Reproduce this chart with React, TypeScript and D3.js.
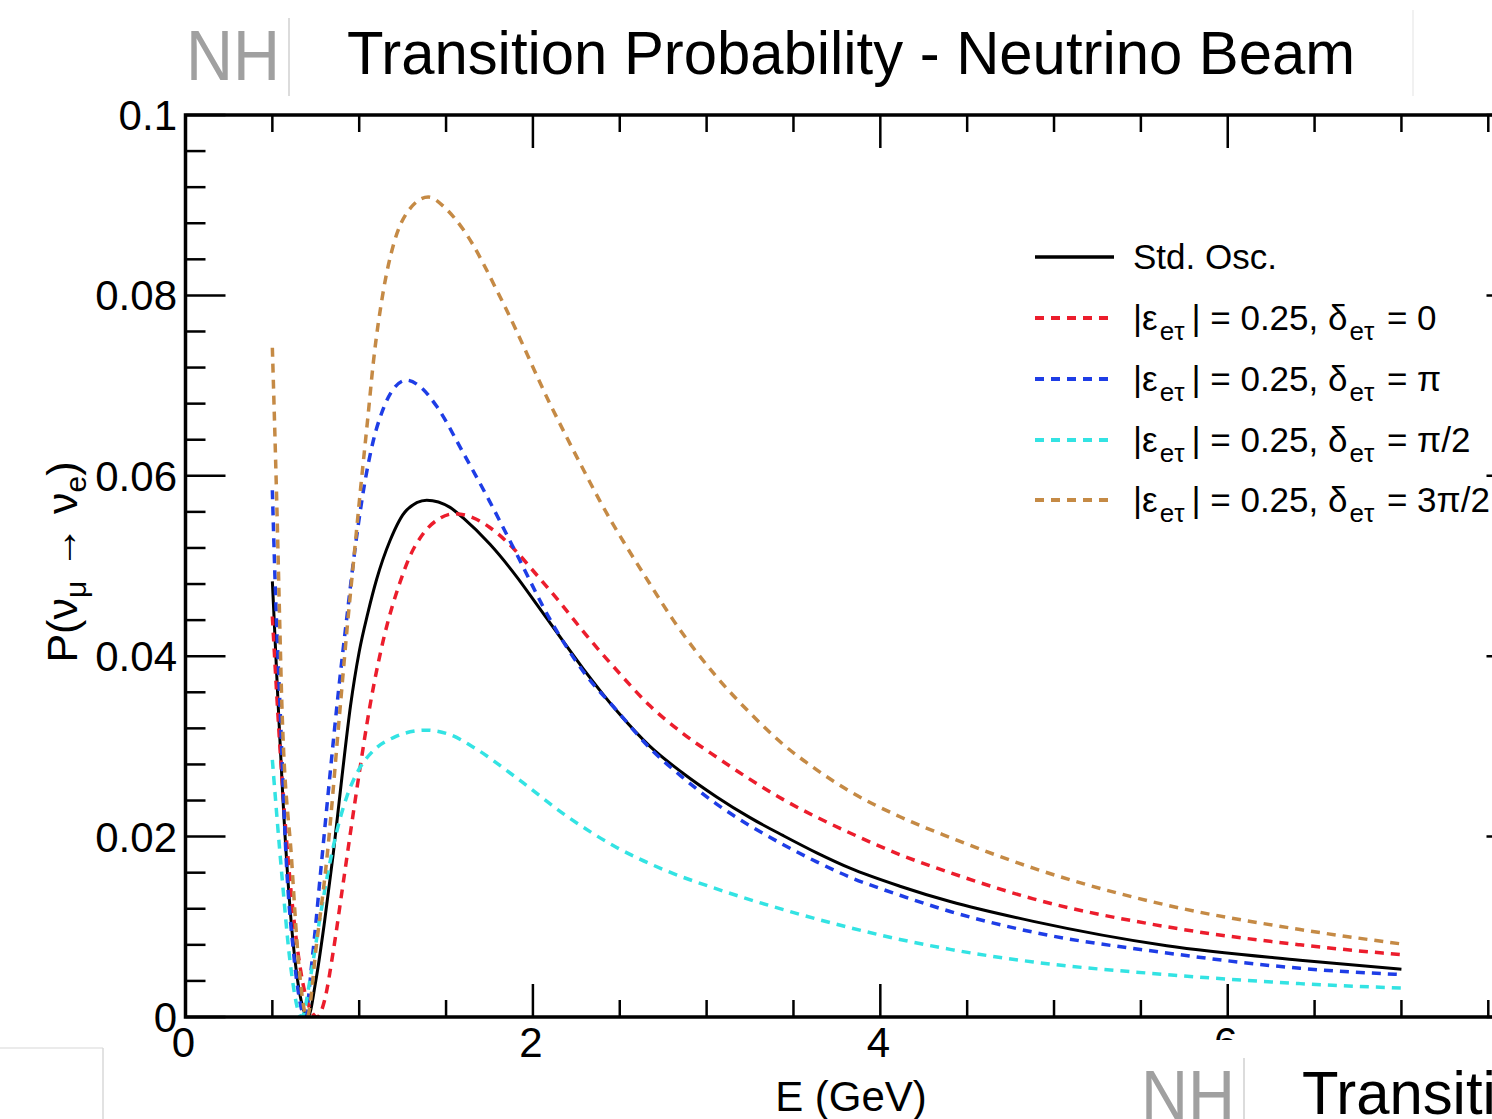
import React from "react";
import * as d3 from "d3";

// ---- data ----
const stdOsc: [number, number][] = [
  [0.5, 0.0483], [0.53, 0.036], [0.56, 0.0245], [0.6, 0.0125], [0.64, 0.0048], [0.675, 0.0011], [0.705, 0],
  [0.75, 0.004], [0.8, 0.0105], [0.85, 0.018], [0.9, 0.0265], [0.95, 0.0345], [1.0, 0.0405], [1.05, 0.0448],
  [1.1, 0.0485], [1.177, 0.0528], [1.273, 0.0562], [1.389, 0.0573], [1.523, 0.0565], [1.6, 0.0553],
  [1.753, 0.0524], [1.907, 0.0488], [2.02, 0.0458], [2.15, 0.0423], [2.29, 0.0386], [2.48, 0.034],
  [2.674, 0.030], [2.866, 0.027], [3.058, 0.0244], [3.25, 0.0221], [3.442, 0.0201], [3.634, 0.0182],
  [3.826, 0.0165], [4.113, 0.0145], [4.402, 0.0128], [4.881, 0.0106], [5.649, 0.0079], [6.416, 0.0063],
  [7.0, 0.0053],
];
const delta0: [number, number][] = [
  [0.5, 0.0444], [0.55, 0.028], [0.6, 0.0155], [0.65, 0.0068], [0.7, 0.0018], [0.759, 0],
  [0.8, 0.0018], [0.85, 0.0072], [0.9, 0.0138], [0.95, 0.0205], [1.0, 0.027], [1.062, 0.0345],
  [1.139, 0.0418], [1.235, 0.0482], [1.29, 0.051], [1.369, 0.0536], [1.465, 0.0553], [1.55, 0.0558],
  [1.65, 0.0554], [1.75, 0.0543], [1.9, 0.0517], [2.0, 0.0495], [2.15, 0.0461], [2.3, 0.0425],
  [2.48, 0.0385], [2.674, 0.0345], [2.866, 0.0314], [3.058, 0.0288], [3.442, 0.0241], [3.826, 0.0204],
  [4.113, 0.018], [4.402, 0.016], [4.881, 0.0131], [5.649, 0.010], [6.416, 0.008], [7.0, 0.0069],
];
const deltaPi: [number, number][] = [
  [0.5, 0.0584], [0.515, 0.0488], [0.545, 0.034], [0.58, 0.0174], [0.62, 0.0075], [0.65, 0.0027], [0.688, 0],
  [0.73, 0.0065], [0.78, 0.0165], [0.83, 0.0265], [0.88, 0.036], [0.93, 0.0445], [0.98, 0.0525],
  [1.03, 0.059], [1.08, 0.0638], [1.14, 0.0675], [1.2, 0.0697], [1.273, 0.0706], [1.35, 0.0699],
  [1.446, 0.0677], [1.6, 0.0625], [1.75, 0.0572], [1.907, 0.0513], [2.098, 0.0441], [2.29, 0.0383],
  [2.482, 0.034], [2.674, 0.0298], [2.866, 0.0265], [3.058, 0.0236], [3.25, 0.0212], [3.442, 0.0191],
  [3.634, 0.0172], [3.826, 0.0155], [4.113, 0.0135], [4.402, 0.0117], [4.881, 0.0094], [5.649, 0.0071],
  [6.416, 0.0054], [7.0, 0.0047],
];
const deltaHalfPi: [number, number][] = [
  [0.5, 0.0285], [0.554, 0.0159], [0.601, 0.0063], [0.669, 0], [0.72, 0.0045], [0.77, 0.0105],
  [0.82, 0.016], [0.87, 0.0205], [0.93, 0.0245], [1.0, 0.0275], [1.08, 0.0295], [1.2, 0.031],
  [1.38, 0.0318], [1.523, 0.0313], [1.65, 0.03], [1.907, 0.0265], [2.2, 0.0222], [2.482, 0.0188],
  [2.77, 0.0162], [3.058, 0.0142], [3.442, 0.0119], [3.826, 0.0099], [4.113, 0.0086], [4.402, 0.0075],
  [4.881, 0.0061], [5.649, 0.0047], [6.416, 0.0037], [7.0, 0.0032],
];
const delta3HalfPi: [number, number][] = [
  [0.5, 0.0742], [0.525, 0.0573], [0.544, 0.0425], [0.554, 0.0351], [0.611, 0.0174], [0.65, 0.0063],
  [0.7, 0], [0.755, 0.0082], [0.813, 0.0174], [0.889, 0.034], [0.93, 0.043], [0.97, 0.051],
  [1.005, 0.058], [1.05, 0.0665], [1.081, 0.0725], [1.139, 0.0805], [1.2, 0.0858], [1.28, 0.0893],
  [1.398, 0.0909], [1.5, 0.0896], [1.599, 0.0873], [1.83, 0.0791], [2.098, 0.068], [2.309, 0.060],
  [2.386, 0.0572], [2.674, 0.048], [2.808, 0.044], [3.058, 0.0377], [3.25, 0.0337], [3.442, 0.0302],
  [3.634, 0.0274], [3.826, 0.025], [4.113, 0.0222], [4.402, 0.0199], [4.881, 0.0165], [5.649, 0.0124],
  [6.416, 0.0097], [7.0, 0.0081],
];

const seriesNames = ["std", "d0", "dpi", "dhalfpi", "d3halfpi"];
const deltaLabels = ["0", "π", "π/2", "3π/2"];
const yTickLabels = ["0", "0.02", "0.04", "0.06", "0.08", "0.1"];
const xTickLabels = ["0", "2", "4", "6"];

const seriesData = [stdOsc, delta0, deltaPi, deltaHalfPi, delta3HalfPi];
const colors = ["#000000", "#ec1d2c", "#1e3de6", "#33e3e3", "#c58a45"];

const W = 1492;
const H = 1119;
const FONT = "'Liberation Sans', Arial, Helvetica, sans-serif";

export default function App() {
  const x = d3.scaleLinear().domain([0, 7.72]).range([185.5, 1526.5]);
  const y = d3.scaleLinear().domain([0, 0.1]).range([1017, 115]);
  const line = d3
    .line<[number, number]>()
    .x((d) => x(d[0]))
    .y((d) => y(d[1]))
    .curve(d3.curveMonotoneX);

  const yMinor = d3.range(0, 0.1 + 1e-9, 0.004);
  const yMajor = d3.range(0, 0.1 + 1e-9, 0.02);
  const xMinor = d3.range(0, 7.72, 0.5);
  const xMajor = d3.range(0, 7.72, 2);

  const x0 = x(0);
  const x1 = x(7.72);
  const y0 = y(0);
  const y1 = y(0.1);

  const header = (dx: number, dy: number, key: string) => (
    <g key={key} transform={`translate(${dx},${dy})`}>
      <text x={186} y={80} fontSize={70} fill="#a0a0a0" textLength={94} lengthAdjust="spacingAndGlyphs">
        NH
      </text>
      <line x1={289} x2={289} y1={18} y2={96} stroke="#d0d0d0" strokeWidth={1.5} />
      <text x={347} y={74} fontSize={61} fill="#000" textLength={1008} lengthAdjust="spacingAndGlyphs">
        Transition Probability - Neutrino Beam
      </text>
    </g>
  );

  const legendYs = [257, 318, 379, 440, 500];

  return (
    <svg
      width={W}
      height={H}
      style={{ position: "absolute", left: 0, top: 0, background: "#fff" }}
      fontFamily={FONT}
    >
      <rect x={0} y={0} width={W} height={H} fill="#fff" />
      {header(0, 0, "top")}
      <line x1={1413} x2={1413} y1={10} y2={96} stroke="#ececec" strokeWidth={1.5} />

      {/* curves */}
      <defs>
        <clipPath id="plotclip">
          <rect x={x0} y={y1} width={x1 - x0} height={y0 - y1} />
        </clipPath>
      </defs>
      <g clipPath="url(#plotclip)">
        {seriesData.map((s, i) => (
          <path
            key={seriesNames[i]}
            d={line(s) || ""}
            fill="none"
            stroke={colors[i]}
            strokeWidth={i === 0 ? 3 : 3.5}
            strokeDasharray={i === 0 ? undefined : "9 7"}
          />
        ))}
      </g>

      {/* frame */}
      <rect x={x0} y={y1} width={x1 - x0} height={y0 - y1} fill="none" stroke="#000" strokeWidth={3.5} />

      {/* y ticks left & right */}
      {yMinor.map((v, i) => {
        const major = yMajor.some((m) => Math.abs(m - v) < 1e-9);
        const len = major ? 40 : 20;
        return (
          <g key={"yt" + i}>
            <line x1={x0} x2={x0 + len} y1={y(v)} y2={y(v)} stroke="#000" strokeWidth={2.5} />
            <line x1={x1} x2={x1 - len} y1={y(v)} y2={y(v)} stroke="#000" strokeWidth={2.5} />
          </g>
        );
      })}
      {/* x ticks bottom & top */}
      {xMinor.map((v, i) => {
        const major = xMajor.some((m) => Math.abs(m - v) < 1e-9);
        const len = major ? 33 : 17;
        return (
          <g key={"xt" + i}>
            <line x1={x(v)} x2={x(v)} y1={y0} y2={y0 - len} stroke="#000" strokeWidth={2.5} />
            <line x1={x(v)} x2={x(v)} y1={y1} y2={y1 + len} stroke="#000" strokeWidth={2.5} />
          </g>
        );
      })}

      {/* y tick labels */}
      {yMajor.map((v, i) => (
        <text key={"yl" + i} x={177} y={y(v) + 15} fontSize={42} textAnchor="end" fill="#000">
          {yTickLabels[i]}
        </text>
      ))}
      {/* x tick labels */}
      {xMajor.map((v, i) => (
        <text key={"xl" + i} x={x(v) - 2} y={1057} fontSize={42} textAnchor="middle" fill="#000">
          {xTickLabels[i]}
        </text>
      ))}

      {/* axis titles */}
      <text x={851} y={1111} fontSize={42} textAnchor="middle" fill="#000">
        E (GeV)
      </text>
      <text transform="translate(77,562) rotate(-90)" fontSize={43} textAnchor="middle" fill="#000">
        P(ν<tspan dy={9} fontSize={30}>μ</tspan>
        <tspan dy={-9}> → ν</tspan>
        <tspan dy={9} fontSize={30}>e</tspan>
        <tspan dy={-9}>)</tspan>
      </text>

      {/* legend */}
      {legendYs.map((ly, i) => (
        <g key={"lg" + i}>
          <line
            x1={1035}
            x2={1114}
            y1={ly}
            y2={ly}
            stroke={colors[i]}
            strokeWidth={i === 0 ? 3.5 : 4}
            strokeDasharray={i === 0 ? undefined : "9 7"}
          />
          {i === 0 ? (
            <text x={1133} y={ly + 12} fontSize={35} fill="#000">
              Std. Osc.
            </text>
          ) : (
            <text x={1133} y={ly + 12} fontSize={35} fill="#000">
              |ε<tspan dy={10} dx={2} fontSize={26}>eτ</tspan>
              <tspan dy={-10} dx={7}>| = 0.25, δ</tspan>
              <tspan dy={10} dx={2} fontSize={26}>eτ</tspan>
              <tspan dy={-10} dx={3}> = {deltaLabels[i - 1]}</tspan>
            </text>
          )}
        </g>
      ))}

      {/* neighbouring panels of the montage */}
      <line x1={0} x2={103} y1={1048} y2={1048} stroke="#e4e4e4" strokeWidth={1.5} />
      <line x1={103} x2={103} y1={1048} y2={H} stroke="#d8d8d8" strokeWidth={1.5} />
      <rect x={955} y={1040} width={W - 955} height={H - 1040} fill="#fff" />
      {header(955, 1040, "bottom")}
    </svg>
  );
}
